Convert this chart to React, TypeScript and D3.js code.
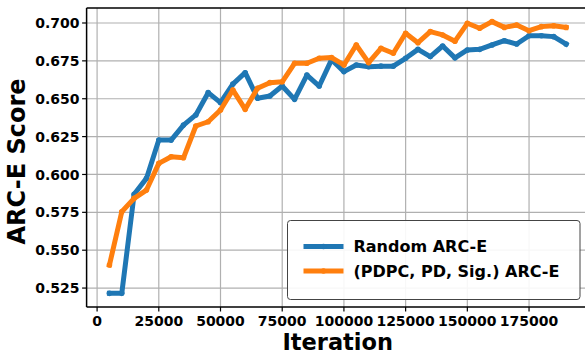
import React from "react";
import * as d3 from "d3";

// Evaluation checkpoints (training iterations)
const iterations: number[] = [
  5000, 10000, 15000, 20000, 25000, 30000, 35000, 40000, 45000, 50000,
  55000, 60000, 65000, 70000, 75000, 80000, 85000, 90000, 95000, 100000,
  105000, 110000, 115000, 120000, 125000, 130000, 135000, 140000, 145000, 150000,
  155000, 160000, 165000, 170000, 175000, 180000, 185000, 190000,
];

const randomArcE: number[] = [
  0.5215, 0.5215, 0.5869, 0.5974, 0.6227, 0.6227, 0.6326, 0.6393, 0.654, 0.6474,
  0.6597, 0.6672, 0.6503, 0.6518, 0.6584, 0.6496, 0.6656, 0.6584, 0.6758, 0.6679,
  0.6723, 0.6711, 0.6715, 0.6715, 0.6767, 0.6826, 0.6778, 0.6848, 0.677, 0.6822,
  0.6826, 0.6855, 0.6883, 0.6861, 0.6916, 0.6916, 0.691, 0.6861,
];

const pdpcArcE: number[] = [
  0.5402, 0.5754, 0.5842, 0.5897, 0.6073, 0.6117, 0.611, 0.632, 0.6348, 0.6426,
  0.6558, 0.643, 0.6569, 0.6606, 0.6612, 0.6734, 0.6734, 0.6767, 0.6772, 0.6723,
  0.6855, 0.6738, 0.6833, 0.68, 0.6932, 0.687, 0.6943, 0.6921, 0.688, 0.6998,
  0.6965, 0.7009, 0.6971, 0.6987, 0.6949, 0.6976, 0.6982, 0.6971,
];

const xTicks: number[] = [0, 25000, 50000, 75000, 100000, 125000, 150000, 175000];
const yTicks: number[] = [0.525, 0.55, 0.575, 0.6, 0.625, 0.65, 0.675, 0.7];

const seriesNames: string[] = ["Random ARC-E", "(PDPC, PD, Sig.) ARC-E"];
const seriesColors: string[] = ["#1f77b4", "#ff7f0e"];

const W = 585;
const H = 358;
const FONT = "'DejaVu Sans', sans-serif";

export default function App() {
  const left = 86.6;
  const right = 588.9;
  const top = 8;
  const bottom = 307;

  const x = d3.scaleLinear().domain([-4250, 199250]).range([left, right]);
  const y = d3.scaleLinear().domain([0.5125, 0.7099]).range([bottom, top]);

  const series = [randomArcE, pdpcArcE];
  const line = d3
    .line<number>()
    .x((_, i) => x(iterations[i]))
    .y((d) => y(d));

  const legendX = 287.5;
  const legendY = 220.5;
  const legendW = 292.5;
  const legendH = 79;
  const rowY = [246.5, 271];

  return (
    <svg
      width={W}
      height={H}
      style={{ position: "fixed", left: 0, top: 0, background: "#fff" }}
      fontFamily={FONT}
    >
      <defs>
        <clipPath id="plot-area">
          <rect x={left} y={top} width={right - left} height={bottom - top} />
        </clipPath>
      </defs>
      <rect x={0} y={0} width={W} height={H} fill="#fff" />

      {/* grid */}
      <g stroke="#b0b0b0" strokeWidth={1.2}>
        {xTicks.map((t) => (
          <line key={"gx" + t} x1={x(t)} x2={x(t)} y1={top} y2={bottom} />
        ))}
        {yTicks.map((t) => (
          <line key={"gy" + t} x1={left} x2={right} y1={y(t)} y2={y(t)} />
        ))}
      </g>

      {/* series */}
      <g clipPath="url(#plot-area)">
        {series.map((s, k) => (
          <g key={"s" + k}>
            <path
              d={line(s) || ""}
              fill="none"
              stroke={seriesColors[k]}
              strokeWidth={5}
              strokeLinejoin="round"
              strokeLinecap="square"
            />
            {s.map((v, i) => (
              <circle key={i} cx={x(iterations[i])} cy={y(v)} r={2.8} fill={seriesColors[k]} />
            ))}
          </g>
        ))}
      </g>

      {/* spines */}
      <g stroke="#000" strokeWidth={1.5} fill="none">
        <line x1={left} x2={left} y1={top} y2={bottom} />
        <line x1={left} x2={right} y1={bottom} y2={bottom} />
        <line x1={left} x2={right} y1={top} y2={top} />
        <line x1={right} x2={right} y1={top} y2={bottom} />
      </g>

      {/* x axis ticks */}
      <g>
        {xTicks.map((t) => (
          <g key={"xt" + t}>
            <line x1={x(t)} x2={x(t)} y1={bottom} y2={bottom + 4.5} stroke="#000" strokeWidth={1.2} />
            <text
              x={x(t)}
              y={325.5}
              textAnchor="middle"
              fontSize={14}
              fontWeight="bold"
              fill="#000"
            >
              {t}
            </text>
          </g>
        ))}
      </g>

      {/* y axis ticks */}
      <g>
        {yTicks.map((t) => (
          <g key={"yt" + t}>
            <line x1={left - 4.5} x2={left} y1={y(t)} y2={y(t)} stroke="#000" strokeWidth={1.2} />
            <text
              x={left - 7}
              y={y(t)}
              dy="0.36em"
              textAnchor="end"
              fontSize={14}
              fontWeight="bold"
              fill="#000"
            >
              {d3.format(".3f")(t)}
            </text>
          </g>
        ))}
      </g>

      {/* axis titles */}
      <text
        x={(left + right) / 2}
        y={349.5}
        textAnchor="middle"
        fontSize={22.5}
        fontWeight="bold"
        fill="#000"
      >
        Iteration
      </text>
      <text
        transform={`translate(25, ${(top + bottom) / 2 + 4}) rotate(-90)`}
        textAnchor="middle"
        fontSize={24}
        fontWeight="bold"
        fill="#000"
      >
        ARC-E Score
      </text>

      {/* legend */}
      <g>
        <rect
          x={legendX}
          y={legendY}
          width={legendW}
          height={legendH}
          rx={3}
          fill="#fff"
          fillOpacity={0.9}
          stroke="#444"
          strokeWidth={1}
        />
        {seriesNames.map((name, k) => (
          <g key={"lg" + k}>
            <line
              x1={306}
              x2={341}
              y1={rowY[k]}
              y2={rowY[k]}
              stroke={seriesColors[k]}
              strokeWidth={5}
              strokeLinecap="square"
            />
            <circle cx={323.5} cy={rowY[k]} r={2.8} fill={seriesColors[k]} />
            <text
              x={353.5}
              y={rowY[k]}
              dy="0.36em"
              fontSize={16}
              fontWeight="bold"
              fill="#000"
            >
              {name}
            </text>
          </g>
        ))}
      </g>
    </svg>
  );
}
